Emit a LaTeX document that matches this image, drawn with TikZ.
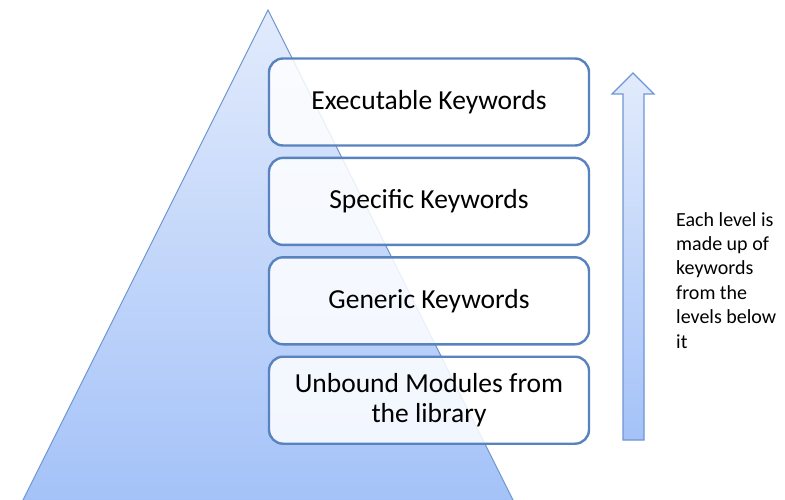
\documentclass[tikz,border=0pt]{standalone}
\usepackage{fontspec}
\setmainfont{Carlito}
\usetikzlibrary{positioning}

\tikzset{
    levelbox/.style={draw=boxblue, line width=2.4pt, rounded corners=14pt,
        fill=white, fill opacity=0.85, text opacity=1,
        minimum width=320pt, minimum height=87pt, align=center,
        font=\fontsize{27.5}{30}\selectfont},
}

\begin{document}
\begin{tikzpicture}[x=1pt,y=-1pt]

    % Colors
    \definecolor{boxblue}{RGB}{88,131,190}
    \definecolor{edgeblue}{RGB}{110,150,210}
    \definecolor{toplight}{RGB}{226,235,252}
    \definecolor{bottomdark}{RGB}{164,194,248}

    \useasboundingbox (0,0) rectangle (785,500);

    % Pyramid
    \begin{scope}
        \clip (0,0) rectangle (785,500);
        \shade[top color=toplight, bottom color=bottomdark, draw=edgeblue, line width=1pt]
            (268,10) -- (515,504) -- (21,504) -- cycle;
    \end{scope}

    % Levels
    \node[levelbox] (exec) at (429,102) {Executable Keywords};
    \node[levelbox, below=10pt of exec] (specific) {Specific Keywords};
    \node[levelbox, below=10pt of specific] (generic) {Generic Keywords};
    \node[levelbox, below=10pt of generic] (unbound) {Unbound Modules from\\the library};

    % Arrow
    \shade[top color=toplight, bottom color=bottomdark, draw=edgeblue, line width=1.2pt]
        (623,440) -- (623,94) -- (612,94) -- (633,73) -- (654,94) -- (644,94) -- (644,440) -- cycle;

    % Note
    \node[anchor=north west, align=left, font=\fontsize{20}{24.4}\selectfont, inner sep=0pt]
        (note) at (676,212) {Each level is\\made up of\\keywords\\from the\\levels below\\it};

\end{tikzpicture}
\end{document}
